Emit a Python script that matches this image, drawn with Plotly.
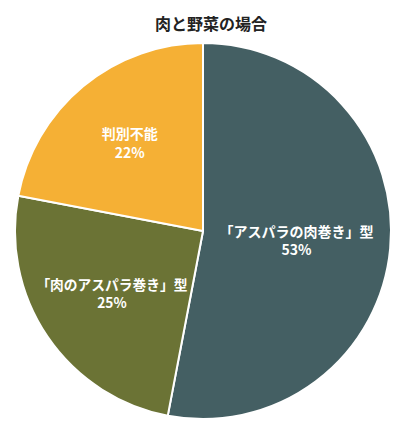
import plotly.graph_objects as go

labels = ["「アスパラの肉巻き」型", "「肉のアスパラ巻き」型", "判別不能"]
values = [53, 25, 22]
colors = ["#445f63", "#6b7335", "#f5b035"]

fig = go.Figure(go.Pie(
    labels=labels,
    values=values,
    sort=False,
    direction="clockwise",
    rotation=0,
    marker=dict(colors=colors, line=dict(color="white", width=2)),
    texttemplate="<b>%{label}</b><br><b>%{percent:.0%}</b>",
    textposition="inside",
    insidetextorientation="horizontal",
    textfont=dict(color="white", size=14, family="Noto Sans CJK JP"),
    showlegend=False,
))

fig.update_layout(
    title=dict(text="<b>肉と野菜の場合</b>", x=0.5, y=0.975, xanchor="center",
               font=dict(size=16, color="#222", family="Noto Sans CJK JP")),
    width=406, height=432,
    margin=dict(l=7, r=23, t=35, b=21),
    paper_bgcolor="white",
)

fig.write_html("out.html")
